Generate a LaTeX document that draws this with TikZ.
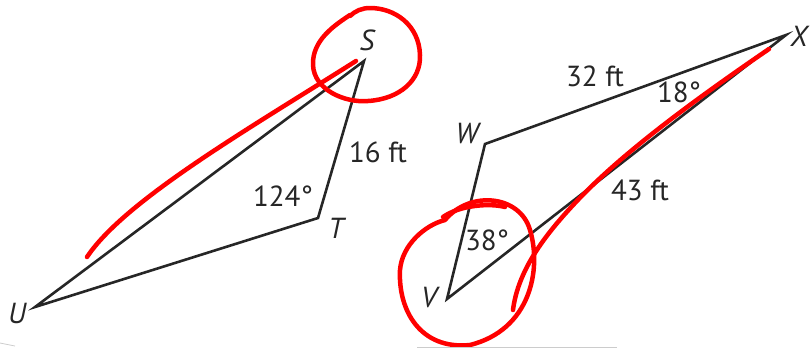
\documentclass[tikz,border=0pt]{standalone}
\usepackage{fontspec}
\setmainfont{PT Sans}
\begin{document}
\begin{tikzpicture}[x=1pt,y=-1pt,
  edge/.style={line width=2.6pt,black!85,line join=miter},
  lbl/.style={font=\fontsize{29}{30}\selectfont\itshape,text=black!85,inner sep=0pt},
  meas/.style={font=\fontsize{29}{30}\selectfont,text=black!85,inner sep=0pt},
  ink/.style={line width=4.5pt,red,line cap=round,line join=round},
  scan/.style={line width=0.8pt,black!20}]
\useasboundingbox (0,0) rectangle (811,349);
% vertices
\coordinate (S) at (364,61);
\coordinate (T) at (318,218);
\coordinate (U) at (35,307);
\coordinate (X) at (786,35);
\coordinate (W) at (485,144);
\coordinate (V) at (447,299);
% triangles
\draw[edge] (S) -- (T) -- (U) -- cycle;
\draw[edge] (X) -- (W) -- (V) -- cycle;
% vertex labels
\node[lbl] (lS) at (367,40) {S};
\node[lbl] (lT) at (336,228) {T};
\node[lbl] (lU) at (17,313) {U};
\node[lbl] (lX) at (799,36) {X};
\node[lbl] (lW) at (467,134) {W};
\node[lbl] (lV) at (429,298) {V};
% measures
\node[meas] (m16) at (378,152) {16 ft};
\node[meas] (m124) at (283,196) {124°};
\node[meas] (m32) at (595,76) {32 ft};
\node[meas] (m18) at (679,92) {18°};
\node[meas] (m43) at (640,190) {43 ft};
\node[meas] (m38) at (487,240) {38°};
% red ink
\draw[ink] (350,15) .. controls (335,25) and (312,40) .. (313,65)
  .. controls (314,90) and (345,103) .. (368,101)
  .. controls (400,99) and (421,80) .. (420,55)
  .. controls (419,25) and (395,8) .. (370,8)
  .. controls (362,8) and (355,11) .. (350,16);
\draw[ink] (356,61) .. controls (250,128) and (125,200) .. (87,257);
\draw[ink] (443,217) .. controls (460,205) and (490,203) .. (505,207);
\draw[ink] (445,220) .. controls (470,190) and (520,195) .. (530,230)
  .. controls (542,270) and (530,330) .. (470,345)
  .. controls (420,350) and (398,310) .. (400,270)
  .. controls (402,245) and (425,225) .. (445,220);
\draw[ink] (769,49) .. controls (690,103) and (620,155) .. (575,203)
  .. controls (545,235) and (518,270) .. (513,310);
% scan artefacts
\draw[scan] (417,347) -- (617,347);
\draw[scan] (0,343) -- (15,346);
\end{tikzpicture}
\end{document}
